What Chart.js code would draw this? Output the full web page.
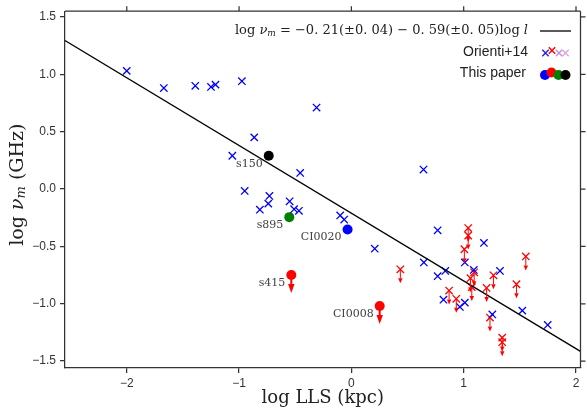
<!DOCTYPE html>
<html>
<head>
<meta charset="utf-8">
<script src="https://cdn.jsdelivr.net/npm/chart.js@4/dist/chart.umd.min.js"></script>
<style>
  html, body { margin: 0; padding: 0; background: #fff; }
</style>
</head>
<body>
<canvas id="c" width="587" height="410"></canvas>
<script>
// Orienti+14 detections (blue crosses)
const oriX = [-2.00, -1.67, -1.39, -1.25, -1.21, -0.975, -0.865, -1.06, -0.31, -0.456,
              -0.95, -0.73, -0.74, -0.815, -0.55, -0.51, -0.467, -0.10, -0.064, 0.208,
              0.642, 0.768, 1.18, 0.645, 1.01, 0.836, 0.768, 1.09, 1.323, 0.82,
              0.966, 1.01, 1.255, 1.522, 1.748];
const oriY = [1.03, 0.88, 0.90, 0.89, 0.91, 0.94, 0.45, 0.29, 0.71, 0.14,
              -0.017, -0.06, -0.127, -0.18, -0.107, -0.176, -0.19, -0.23, -0.266, -0.52,
              0.17, -0.36, -0.47, -0.64, -0.64, -0.714, -0.76, -0.705, -0.714, -0.965,
              -1.028, -0.99, -1.093, -1.06, -1.185];

// Orienti+14 upper limits (red crosses with arrows)
const limX = [0.436, 1.04, 1.04, 1.006, 1.553, 1.093, 1.06, 1.072, 1.265, 1.47,
              1.204, 0.87, 0.934, 1.234, 1.343, 1.343];
const limY = [-0.70, -0.34, -0.405, -0.525, -0.588, -0.726, -0.777, -0.855, -0.752, -0.83,
              -0.862, -0.885, -0.957, -1.12, -1.295, -1.335];

// This paper
const paperNames = ['s150', 's895', 'CI0020', 's415', 'CI0008'];
const paperX = [-0.736, -0.553, -0.034, -0.535, 0.252];
const paperY = [0.29, -0.245, -0.353, -0.75, -1.02];
const paperUpper = [false, false, false, true, true];

// fit line, end points
const fitX = [-2.55, 2.04];
const fitY = [1.295, -1.415];

const xTicks = [-2, -1, 0, 1, 2];
const yTicks = [-1.5, -1.0, -0.5, 0.0, 0.5, 1.0, 1.5];

const paperColors = { s150: '#000000', s895: '#008000', CI0020: '#0000ff', s415: '#ff0000', CI0008: '#ff0000' };
const AX = '#333333';

const pts = (xs, ys) => xs.map((x, i) => ({ x: x, y: ys[i] }));
const minus = s => s.replace('-', '\u2212');

const paperSets = paperNames.map((n, i) => ({
    label: n,
    data: [{ x: paperX[i], y: paperY[i] }],
    pointStyle: 'circle',
    pointRadius: 5,
    backgroundColor: paperColors[n],
    borderColor: paperColors[n],
    borderWidth: 0,
    upper: paperUpper[i],
    bigArrow: true,
    tag: n
}));

// arrows for upper limits
const arrowPlugin = {
    id: 'arrows',
    afterDatasetsDraw(chart) {
        const ctx = chart.ctx;
        chart.data.datasets.forEach((ds, i) => {
            if (!ds.upper) return;
            const meta = chart.getDatasetMeta(i);
            ctx.save();
            ctx.strokeStyle = ds.borderColor;
            ctx.fillStyle = ds.borderColor;
            meta.data.forEach(el => {
                const x = el.x, y = el.y;
                const tip = ds.bigArrow ? 18 : 14;
                const base = ds.bigArrow ? 9 : 9;
                const hw = ds.bigArrow ? 3.2 : 2.2;
                ctx.lineWidth = ds.bigArrow ? 2 : 1;
                ctx.beginPath();
                ctx.moveTo(x, y);
                ctx.lineTo(x, y + base);
                ctx.stroke();
                ctx.beginPath();
                ctx.moveTo(x - hw, y + base);
                ctx.lineTo(x + hw, y + base);
                ctx.lineTo(x, y + tip);
                ctx.closePath();
                ctx.fill();
            });
            ctx.restore();
        });
    }
};

// names next to this paper's sources
const namePlugin = {
    id: 'names',
    afterDatasetsDraw(chart) {
        const ctx = chart.ctx;
        ctx.save();
        ctx.font = '11px "DejaVu Serif"';
        ctx.fillStyle = '#404040';
        ctx.textAlign = 'right';
        ctx.textBaseline = 'middle';
        chart.data.datasets.forEach((ds, i) => {
            if (!ds.tag) return;
            const el = chart.getDatasetMeta(i).data[0];
            ctx.fillText(ds.tag, el.x - 6, el.y + 8);
        });
        ctx.restore();
    }
};

// top / right frame with ticks, axis titles, legend
const framePlugin = {
    id: 'frame',
    afterDraw(chart) {
        const ctx = chart.ctx;
        const a = chart.chartArea;
        const xs = chart.scales.x, ys = chart.scales.y;
        ctx.save();
        ctx.strokeStyle = AX;
        ctx.lineWidth = 1.25;
        ctx.beginPath();
        ctx.moveTo(a.left, a.top); ctx.lineTo(a.right, a.top);
        ctx.moveTo(a.right, a.top); ctx.lineTo(a.right, a.bottom);
        xTicks.forEach(v => {
            const px = xs.getPixelForValue(v);
            ctx.moveTo(px, a.top); ctx.lineTo(px, a.top - 5);
        });
        yTicks.forEach(v => {
            const py = ys.getPixelForValue(v);
            ctx.moveTo(a.right, py); ctx.lineTo(a.right + 5, py);
        });
        ctx.stroke();

        // x title
        ctx.fillStyle = '#222';
        ctx.font = '18px "DejaVu Serif"';
        ctx.textAlign = 'center';
        ctx.textBaseline = 'middle';
        ctx.fillText('log LLS (kpc)', (a.left + a.right) / 2, 398);

        // y title: log nu_m (GHz)
        ctx.translate(18, (a.top + a.bottom) / 2 - 5);
        ctx.rotate(-Math.PI / 2);
        const segs = [
            { t: 'log ', f: '19px "DejaVu Serif"', dy: 0 },
            { t: '\u03bd', f: 'italic 19px "DejaVu Serif"', dy: 0 },
            { t: 'm', f: 'italic 13px "DejaVu Serif"', dy: 4 },
            { t: ' (GHz)', f: '19px "DejaVu Serif"', dy: 0 }
        ];
        drawSegs(ctx, segs, 0, 0, 'center');
        ctx.restore();

        // legend
        ctx.save();
        const eq = [
            { t: 'log ', f: '13px "DejaVu Serif"', dy: 0 },
            { t: '\u03bd', f: 'italic 13px "DejaVu Serif"', dy: 0 },
            { t: 'm', f: 'italic 9px "DejaVu Serif"', dy: 3 },
            { t: ' = \u22120. 21(\u00b10. 04) \u2212 0. 59(\u00b10. 05)log ', f: '13px "DejaVu Serif"', dy: 0 },
            { t: 'l', f: 'italic 13px "DejaVu Serif"', dy: 0 }
        ];
        ctx.fillStyle = '#222';
        drawSegs(ctx, eq, 528, 31, 'right');
        ctx.strokeStyle = '#000';
        ctx.lineWidth = 1.3;
        ctx.beginPath();
        ctx.moveTo(540, 31); ctx.lineTo(571, 31);
        ctx.stroke();

        ctx.font = '14px "Liberation Sans"';
        ctx.textAlign = 'right';
        ctx.textBaseline = 'middle';
        ctx.fillText('Orienti+14', 528, 52);
        ctx.fillText('This paper', 526, 73);

        const crossCols = ['#2222ee', '#ff0000', '#c58ed8', '#d9a6dd'];
        const crossX = [545.5, 552, 559, 565.5];
        const crossY = [53, 50.5, 53, 53];
        ctx.lineWidth = 1.4;
        crossCols.forEach((c, i) => {
            ctx.strokeStyle = c;
            ctx.beginPath();
            ctx.moveTo(crossX[i] - 3.2, crossY[i] - 3.2); ctx.lineTo(crossX[i] + 3.2, crossY[i] + 3.2);
            ctx.moveTo(crossX[i] - 3.2, crossY[i] + 3.2); ctx.lineTo(crossX[i] + 3.2, crossY[i] - 3.2);
            ctx.stroke();
        });
        const dotCols = ['#0000ff', '#ff0000', '#008000', '#000000'];
        const dotX = [545, 551.5, 558.5, 565.5];
        const dotY = [75, 72.5, 75, 75];
        dotCols.forEach((c, i) => {
            ctx.fillStyle = c;
            ctx.beginPath();
            ctx.arc(dotX[i], dotY[i], 5, 0, Math.PI * 2);
            ctx.fill();
        });
        ctx.restore();
    }
};

function drawSegs(ctx, segs, x, y, align) {
    let w = 0;
    segs.forEach(s => { ctx.font = s.f; w += ctx.measureText(s.t).width; });
    let cx = align === 'center' ? x - w / 2 : (align === 'right' ? x - w : x);
    ctx.textAlign = 'left';
    ctx.textBaseline = 'middle';
    segs.forEach(s => {
        ctx.font = s.f;
        ctx.fillText(s.t, cx, y + s.dy);
        cx += ctx.measureText(s.t).width;
    });
}

new Chart(document.getElementById('c'), {
    type: 'scatter',
    data: {
        datasets: [
            {
                type: 'line',
                label: 'fit',
                data: pts(fitX, fitY),
                borderColor: '#000',
                borderWidth: 1.3,
                pointRadius: 0,
                fill: false
            },
            {
                label: 'Orienti+14',
                data: pts(oriX, oriY),
                pointStyle: 'crossRot',
                pointRadius: 5.2,
                borderColor: '#0000ff',
                borderWidth: 1.3
            },
            {
                label: 'Orienti+14 limits',
                data: pts(limX, limY),
                pointStyle: 'crossRot',
                pointRadius: 5.2,
                borderColor: '#ff0000',
                borderWidth: 1.3,
                upper: true
            },
            ...paperSets
        ]
    },
    options: {
        responsive: false,
        devicePixelRatio: 1,
        animation: false,
        layout: { padding: { top: 11, right: 5, left: 0, bottom: 0 } },
        plugins: {
            legend: { display: false },
            tooltip: { enabled: false }
        },
        scales: {
            x: {
                type: 'linear',
                min: -2.55,
                max: 2.04,
                afterFit: s => { s.height = 42; },
                afterBuildTicks: s => { s.ticks = xTicks.map(v => ({ value: v })); },
                grid: { drawOnChartArea: false, drawTicks: true, tickLength: 5, color: AX, lineWidth: 1.25 },
                border: { display: true, color: AX, width: 1.25 },
                ticks: {
                    color: '#333',
                    padding: 3,
                    font: { family: 'Liberation Sans', size: 12 },
                    callback: v => minus(String(v))
                }
            },
            y: {
                type: 'linear',
                min: -1.56,
                max: 1.55,
                afterFit: s => { s.width = 65; },
                afterBuildTicks: s => { s.ticks = yTicks.map(v => ({ value: v })); },
                grid: { drawOnChartArea: false, drawTicks: true, tickLength: 5, color: AX, lineWidth: 1.25 },
                border: { display: true, color: AX, width: 1.25 },
                ticks: {
                    color: '#333',
                    padding: 4,
                    font: { family: 'Liberation Sans', size: 12 },
                    callback: v => minus(v.toFixed(1))
                }
            }
        }
    },
    plugins: [arrowPlugin, namePlugin, framePlugin]
});
</script>
</body>
</html>
